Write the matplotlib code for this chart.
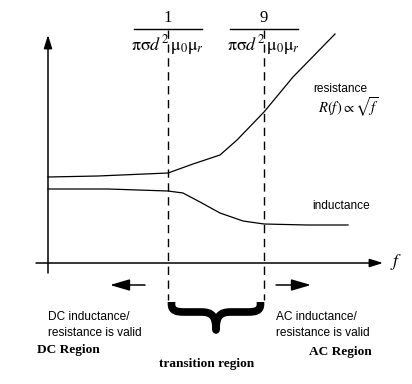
import matplotlib
matplotlib.use("Agg")
import matplotlib.pyplot as plt
from matplotlib.path import Path
from matplotlib.patches import PathPatch

plt.rcParams['mathtext.fontset'] = 'stix'

# frequency (chart units) and curve values
f_res = [0, 50, 120, 145, 172, 189, 216, 245, 287]
res = [85, 86, 89, 98, 107, 122, 150, 185, 228]
f_ind = [0, 60, 120, 135, 152, 172, 195, 216, 259, 300]
ind = [73, 73, 71, 69, 60, 49, 41, 38, 37, 37]

# transition frequencies (1 and 9 over pi sigma d^2 mu0 mur)
f_trans = [120, 216]
numerators = ['1', '9']
denom = r'$\mathrm{\pi\sigma}d^2\,\mathrm{\mu}_0\mathrm{\mu}_r$'

sans = 'Liberation Sans'
serif = 'Liberation Serif'

fig = plt.figure(figsize=(4.12, 3.84), dpi=100)
ax = fig.add_axes([0, 0, 1, 1])
ax.set_xlim(-48, 364)
ax.set_ylim(-122, 262)
ax.axis('off')

# axes with arrows
arrow = dict(arrowstyle='-|>,head_length=0.8,head_width=0.25', color='k',
             lw=1.1, shrinkA=0, shrinkB=0)
ax.annotate('', xy=(0, 227), xytext=(0, -11), arrowprops=arrow)
ax.annotate('', xy=(335, -1), xytext=(-12, -1), arrowprops=arrow)
ax.text(342, 0, r'$f$', fontsize=13, ha='left', va='center')

# curves
ax.plot(f_res, res, color='k', lw=0.9)
ax.plot(f_ind, ind, color='k', lw=0.9)

# dashed lines and fractions
for ft, num in zip(f_trans, numerators):
    ax.plot([ft, ft], [232, -38], color='k', lw=1, dashes=(6, 4))
    ax.plot([ft - 34, ft + 34], [233, 233], color='k', lw=1)
    ax.text(ft, 244, num, fontsize=12, family=serif, ha='center', va='center')
    ax.text(ft, 217, denom, fontsize=13, ha='center', va='center')

# labels for curves
ax.text(292, 173, 'resistance', fontsize=8.6, family=sans, ha='center', va='center')
ax.text(300, 155, r'$R(f)\propto\sqrt{f}$', fontsize=10.5, ha='center', va='center')
ax.text(293, 56, 'inductance', fontsize=8.6, family=sans, ha='center', va='center')

# region arrows
small = dict(arrowstyle='-|>,head_length=1.2,head_width=0.35', color='k',
             lw=1.1, shrinkA=0, shrinkB=0)
ax.annotate('', xy=(62, -23), xytext=(97, -23), arrowprops=small)
ax.annotate('', xy=(263, -23), xytext=(228, -23), arrowprops=small)

# curly brace under the transition region
a, b = f_trans
m = (a + b) / 2
x1 = a + 3.5
x2 = b - 3.5
verts = [(x1, -40), (x1, -42),
         (x1, -49), (x1 + 5, -50), (x1 + 13, -50),
         (m - 15, -50),
         (m - 4, -50), (m, -54), (m, -68),
         (m, -54), (m + 4, -50), (m + 15, -50),
         (x2 - 13, -50),
         (x2 - 5, -50), (x2, -49), (x2, -42),
         (x2, -40)]
codes = [Path.MOVETO, Path.LINETO,
         Path.CURVE4, Path.CURVE4, Path.CURVE4,
         Path.LINETO,
         Path.CURVE4, Path.CURVE4, Path.CURVE4,
         Path.CURVE4, Path.CURVE4, Path.CURVE4,
         Path.LINETO,
         Path.CURVE4, Path.CURVE4, Path.CURVE4,
         Path.LINETO]
ax.add_patch(PathPatch(Path(verts, codes), fill=False, lw=5.5, color='k',
                       capstyle='butt', joinstyle='round'))

# region texts
ax.text(0, -63, 'DC inductance/\nresistance is valid', fontsize=8.6, family=sans,
        ha='left', va='center', linespacing=1.35)
ax.text(228, -63, 'AC inductance/\nresistance is valid', fontsize=8.6, family=sans,
        ha='left', va='center', linespacing=1.35)
ax.text(-11, -88, 'DC Region', fontsize=9.6, family=serif, weight='bold',
        ha='left', va='center')
ax.text(261, -90, 'AC Region', fontsize=9.6, family=serif, weight='bold',
        ha='left', va='center')
ax.text(158.5, -102, 'transition region', fontsize=9.6, family=serif,
        weight='bold', ha='center', va='center')

fig.savefig('out.png', dpi=100)
